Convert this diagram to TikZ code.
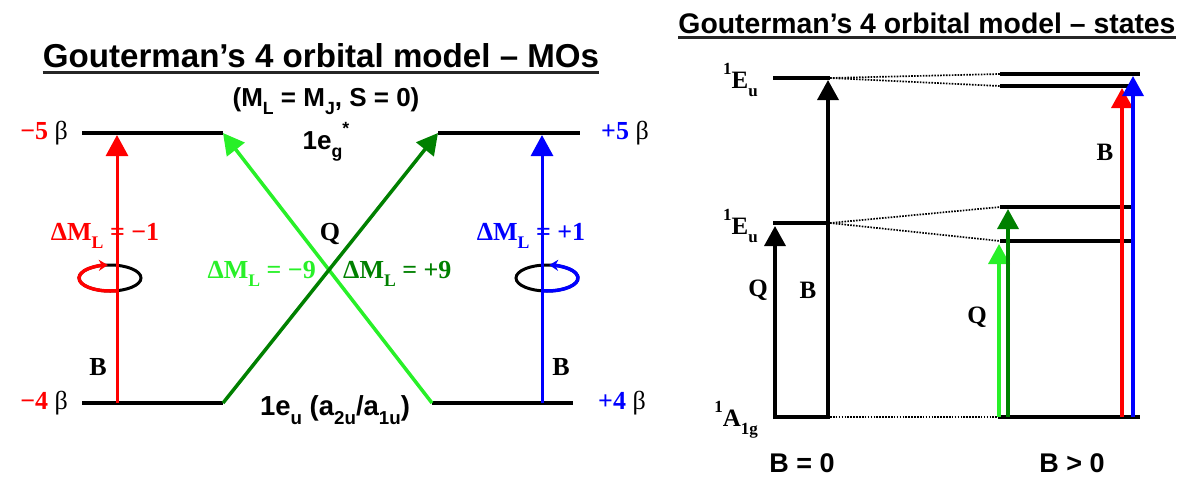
\documentclass[tikz,border=0pt]{standalone}
\usepackage{fontspec}
\usepackage{graphicx}
\setmainfont{Liberation Serif}
\setsansfont{Liberation Sans}
\usetikzlibrary{arrows.meta}
\definecolor{lgreen}{RGB}{40,240,40}
\definecolor{dgreen}{RGB}{0,128,0}
\definecolor{myred}{RGB}{255,0,0}
\definecolor{myblue}{RGB}{0,0,255}
\newcommand{\lowsub}[1]{\raisebox{-0.32em}{\scalebox{0.68}{#1}}}
\newcommand{\highsup}[1]{\raisebox{0.55em}{\scalebox{0.68}{#1}}}
\begin{document}
\begin{tikzpicture}[x=1pt,y=1pt,
  level/.style={line width=4pt},
  trans/.style={line width=3pt,-{Triangle[width=22pt,length=21pt]}},
  transr/.style={line width=3.5pt,-{Triangle[width=21pt,length=20pt]}},
  dotline/.style={line width=1.7pt,dash pattern=on 1.6pt off 1.3pt},
  lab/.style={font=\fontsize{26}{30}\selectfont\bfseries, inner sep=0pt},
  labr/.style={font=\fontsize{25}{29}\selectfont\bfseries, inner sep=0pt},
  sanslab/.style={font=\fontsize{26}{30}\selectfont\sffamily\bfseries, inner sep=0pt},
  titlestyle/.style={font=\sffamily\bfseries, inner sep=0pt, anchor=base},
  uline/.style={line width=2.5pt, black!85},
  ring/.style={line width=3pt},
  spin/.style={line width=3.5pt,-{Stealth[length=9pt,width=11pt]}}]
\useasboundingbox (0,0) rectangle (1180,-477);

% ---------- left panel ----------
\node[titlestyle] (t1) at (321,-67) {\resizebox{556pt}{!}{Gouterman’s 4 orbital model – MOs}};
\draw[uline] ([yshift=-5pt]t1.south west) -- ([yshift=-5pt]t1.south east);
\node[sanslab] (mlmj) at (326,-101) {(M\lowsub{L} = M\lowsub{J}, S = 0)};

\coordinate (TL1) at (82,-133);  \coordinate (TL2) at (223,-133);
\coordinate (TR1) at (438,-133); \coordinate (TR2) at (580,-133);
\coordinate (BL1) at (82,-403);  \coordinate (BL2) at (223,-403);
\coordinate (BR1) at (432,-403); \coordinate (BR2) at (573,-403);
\draw[level] (TL1) -- (TL2);
\draw[level] (TR1) -- (TR2);
\draw[level] (BL1) -- (BL2);
\draw[level] (BR1) -- (BR2);

\node[lab, anchor=east] (m5) at (68,-133) {\textcolor{myred}{−5} \mdseries β};
\node[lab, anchor=west] (p5) at (601,-133) {\textcolor{myblue}{+5} \mdseries β};
\node[lab, anchor=east] (m4) at (68,-403) {\textcolor{myred}{−4} \mdseries β};
\node[lab, anchor=west] (p4) at (598,-403) {\textcolor{myblue}{+4} \mdseries β};
\node[sanslab] (eg) at (326,-142) {1e\lowsub{g}\highsup{*}};
\node[sanslab, font=\fontsize{27.5}{30}\selectfont\sffamily\bfseries] (eu) at (335,-410) {1e\lowsub{u} (a\lowsub{2u}/a\lowsub{1u})};

% rings
\coordinate (E1) at (110,-278);
\coordinate (E2) at (547,-278);
\draw[ring] (E1) ellipse [x radius=31, y radius=13];
\draw[ring] (E2) ellipse [x radius=31, y radius=13];
\draw[spin, myred] ([shift={(-77:31 and 13)}]E1) arc[start angle=-77, end angle=-266, x radius=31, y radius=13];
\draw[spin, myblue] ([shift={(-99:31 and 13)}]E2) arc[start angle=-99, end angle=86, x radius=31, y radius=13];

% vertical B transitions
\coordinate (RB) at (117,-403); \coordinate (RT) at (117,-135);
\coordinate (UB) at (542,-403); \coordinate (UT) at (542,-135);
\draw[trans, myred] (RB) -- (RT);
\draw[trans, myblue] (UB) -- (UT);

% crossing Q transitions
\draw[trans, lgreen, line width=3.5pt] (BR1) -- (TL2);
\draw[trans, dgreen, line width=3.5pt] (BL2) -- (TR1);

\node[lab, myred] (dm1) at (105,-236) {ΔM\lowsub{L} = −1};
\node[lab, myblue] (dp1) at (531,-236) {ΔM\lowsub{L} = +1};
\node[lab] (qq) at (330,-234) {Q};
\node[lab, lgreen, anchor=east] (dm9) at (316,-274) {ΔM\lowsub{L} = −9};
\node[lab, dgreen, anchor=west] (dp9) at (343,-274) {ΔM\lowsub{L} = +9};
\node[lab] (bl) at (98,-367) {B};
\node[lab] (br) at (561,-367) {B};

% ---------- right panel ----------
\node[titlestyle] (t2) at (927,-33) {\resizebox{497pt}{!}{Gouterman’s 4 orbital model – states}};
\draw[uline] ([yshift=-4pt]t2.south west) -- ([yshift=-4pt]t2.south east);

\coordinate (A1) at (773,-78);  \coordinate (A2) at (830,-78);
\coordinate (M1) at (773,-223); \coordinate (M2) at (830,-223);
\coordinate (G1) at (773,-417); \coordinate (G2) at (830,-417);
\coordinate (UA1) at (1000,-74);  \coordinate (UA2) at (1140,-74);
\coordinate (UB1) at (1000,-86);  \coordinate (UB2) at (1133,-86);
\coordinate (UC1) at (1000,-207); \coordinate (UC2) at (1133,-207);
\coordinate (UD1) at (1000,-241); \coordinate (UD2) at (1133,-241);
\coordinate (UG1) at (998,-417);  \coordinate (UG2) at (1140,-417);

\draw[level] (A1) -- (A2);
\draw[level] (M1) -- (M2);
\draw[level] (G1) -- (G2);
\draw[level] (UA1) -- (UA2);
\draw[level] (UB1) -- (UB2);
\draw[level] (UC1) -- (UC2);
\draw[level] (UD1) -- (UD2);
\draw[level] (UG1) -- (UG2);

\draw[dotline] (A2) -- (UA1);
\draw[dotline] (A2) -- (UB1);
\draw[dotline] (M2) -- (UC1);
\draw[dotline] (M2) -- (UD1);
\draw[dotline] (G2) -- (UG1);

\coordinate (QB) at (775,-419); \coordinate (QT) at (775,-226);
\coordinate (BB) at (828,-419); \coordinate (BT) at (828,-80);
\draw[transr] (QB) -- (QT);
\draw[transr] (BB) -- (BT);

\coordinate (LGB) at (999,-417);  \coordinate (LGT) at (999,-244);
\coordinate (DGB) at (1008,-417); \coordinate (DGT) at (1008,-209);
\coordinate (RRB) at (1122,-417); \coordinate (RRT) at (1122,-88);
\coordinate (BBB) at (1133,-417); \coordinate (BBT) at (1133,-76);
\draw[transr, lgreen] (LGB) -- (LGT);
\draw[transr, dgreen] (DGB) -- (DGT);
\draw[transr, myred] (RRB) -- (RRT);
\draw[transr, myblue] (BBB) -- (BBT);

\node[labr, anchor=east] (le1) at (758,-80) {\highsup{1}E\lowsub{u}};
\node[labr, anchor=east] (le2) at (758,-226) {\highsup{1}E\lowsub{u}};
\node[labr, anchor=east] (la) at (758,-420) {\highsup{1}A\lowsub{1g}};
\node[labr] (ql) at (758,-290) {Q};
\node[labr] (bl2) at (808,-290) {B};
\node[labr] (br2) at (1105,-152) {B};
\node[labr] (qr) at (977,-317) {Q};
\node[sanslab, font=\fontsize{27}{30}\selectfont\sffamily\bfseries] (b0) at (802,-463) {B = 0};
\node[sanslab, font=\fontsize{27}{30}\selectfont\sffamily\bfseries] (bg) at (1072,-463) {B > 0};
\end{tikzpicture}
\end{document}
